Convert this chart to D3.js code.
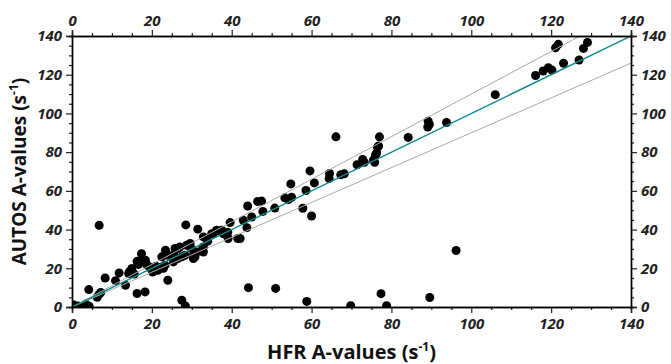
<!DOCTYPE html>
<html>
<head>
<meta charset="utf-8">
<script src="https://cdn.jsdelivr.net/npm/d3@7"></script>
<style>
  body { margin: 0; background: #fff; }
</style>
</head>
<body>
<div id="chart"></div>
<script>
// HFR A-values (x) vs AUTOS A-values (y)
let hfr = [0.5, 1.5, 2.7, 4.3, 3.5, 4.2, 6.3, 6.8, 7.2, 6.8, 8.3, 10.9, 11.8, 13.4, 14.2, 14.4,
    15, 15.6, 16.3, 18.3, 16.3, 17.1, 17.4, 18.4, 18.8, 16.7, 19.8, 20.2, 20.5, 19.5,
    21, 21.5, 22, 22.5, 22.9, 23.3, 22.5, 23.4, 24, 24, 25.4, 25.4, 25.8, 26.6, 25.5, 26.5,
    27.5, 28.3, 27, 28.7, 29.6, 28.5, 27.5, 28.4, 30.4, 30.4, 31.2, 30.8, 31.5, 32.9, 32.9,
    32.5, 32.9, 33.7, 30, 35, 35.4, 36.2, 37.1, 37.5, 37.9, 34, 39.1, 39, 39.6, 41.5, 42.1,
    42.9, 43.8, 44, 44.2, 45, 46.5, 47.5, 47.8, 50.8, 51, 53.3, 54.2, 55, 54.8, 57.8, 58.6,
    60, 60.7, 59.6, 58.8, 64.5, 64.4, 66.1, 67.3, 68.2, 69.8, 71.4, 72.8, 73.2, 75.5, 75.8,
    76, 76.3, 76.5, 76.8, 77, 77.4, 78.8, 84.2, 89.2, 89.5, 89.1, 89.6, 93.8, 96.2,
    106, 116.1, 118, 119.3, 120.2, 121.1, 121.8, 123.1, 127, 128.1, 129.1];
let autos = [1, 0.5, 0.4, 0.4, 1.5, 9, 5, 6.5, 7.5, 42.2, 15, 13.6, 17.6, 11.2, 17.3, 18.3,
    19.9, 17, 7, 7.8, 23.6, 23.3, 27.5, 24.1, 21.6, 22, 19.8, 18.1, 19.9, 20.5,
    21, 19, 19.9, 20.7, 20, 21.6, 25.9, 29.3, 26.7, 13.8, 23.3, 24.1, 30.2, 30.2, 27, 25,
    25.9, 26.7, 31, 31.9, 32.8, 42.4, 3.5, 0.5, 26.7, 25, 28.4, 25.9, 40.2, 31, 28.4,
    29.3, 36.2, 35.4, 30, 37.9, 37.9, 39.7, 39.2, 39.7, 37.9, 34, 35.4, 38.6, 43.6, 35.4, 35.4,
    44.8, 41, 52.2, 10, 46.5, 54.5, 54.7, 49.4, 51.1, 9.6, 56.4, 55.5, 56.7, 63.6, 51, 60.2,
    47, 64.1, 70.3, 2.9, 69, 66.4, 87.9, 68.3, 68.8, 0.7, 73.5, 76.2, 74.8, 76, 74.8,
    78.5, 79.5, 82.5, 83.2, 87.9, 6.9, 0.7, 87.6, 96, 94.3, 93, 4.9, 95.3, 29.2,
    109.7, 119.6, 121.9, 123.6, 122.4, 133.9, 135.7, 125.9, 127.6, 133.6, 136.7];

// reference lines: 1:1 and +/-10 %
let refSlopes = [1.1, 0.9];
let majorTicks = [0, 20, 40, 60, 80, 100, 120, 140];

let svgWidth = 671;
let svgHeight = 364;
let margin = { top: 36, right: 40, bottom: 57, left: 72 };
let width = svgWidth - margin.left - margin.right;
let height = svgHeight - margin.top - margin.bottom;
let fontFamily = '"Open Sans", "Noto Sans", sans-serif';

let svg = d3.select('#chart')
    .append('svg')
    .attr('width', svgWidth)
    .attr('height', svgHeight);

let chartGroup = svg.append('g')
    .attr('transform', `translate(${margin.left}, ${margin.top})`);

svg.append('defs').append('clipPath')
    .attr('id', 'plot-clip')
    .append('rect')
    .attr('x', 0).attr('y', 0)
    .attr('width', width).attr('height', height);

let x = d3.scaleLinear().domain([0, 140]).range([0, width]);
let y = d3.scaleLinear().domain([0, 140]).range([height, 0]);

let minorTicks = d3.range(0, 141, 5).filter(v => v % 20 !== 0);

let plot = chartGroup.append('g').attr('clip-path', 'url(#plot-clip)');

// points
plot.selectAll('circle')
    .data(hfr.map((v, i) => [v, autos[i]]))
    .enter()
    .append('circle')
    .attr('cx', d => x(d[0]))
    .attr('cy', d => y(d[1]))
    .attr('r', 4.5)
    .attr('fill', '#000');

// +/-10% lines
refSlopes.forEach(s => {
    plot.append('line')
        .attr('x1', x(0)).attr('y1', y(0))
        .attr('x2', x(140)).attr('y2', y(140 * s))
        .attr('stroke', '#aaaaaa')
        .attr('stroke-width', 1);
});

// 1:1 line
plot.append('line')
    .attr('x1', x(0)).attr('y1', y(0))
    .attr('x2', x(140)).attr('y2', y(140))
    .attr('stroke', '#0e8a8c')
    .attr('stroke-width', 1.4);

// axes: major ticks with labels, minor ticks without
function drawAxis(axisFn, scale, transform, pad) {
    let g = chartGroup.append('g').attr('transform', transform);
    g.append('g').call(axisFn(scale).tickValues(minorTicks).tickSize(3).tickFormat(''));
    g.append('g').call(axisFn(scale).tickValues(majorTicks).tickSize(6).tickPadding(pad).tickFormat(d3.format('d')));
    g.selectAll('.domain').attr('stroke', '#000').attr('stroke-width', 1.4);
    g.selectAll('.tick line').attr('stroke', '#222').attr('stroke-width', 1.2);
    g.selectAll('.tick text')
        .style('font-family', fontFamily)
        .style('font-weight', 'bold')
        .style('font-style', 'italic')
        .style('font-size', '15px')
        .attr('fill', '#222');
    return g;
}

drawAxis(d3.axisBottom, x, `translate(0,${height})`, 5);
drawAxis(d3.axisTop, x, 'translate(0,0)', 4);
drawAxis(d3.axisLeft, y, 'translate(0,0)', 4);
drawAxis(d3.axisRight, y, `translate(${width},0)`, 4);

// x title
let xTitle = chartGroup.append('text')
    .attr('x', width / 2)
    .attr('y', height + 52)
    .attr('text-anchor', 'middle')
    .style('font-family', fontFamily)
    .style('font-weight', 'bold')
    .style('font-size', '20px')
    .attr('fill', '#111');
xTitle.append('tspan').text('HFR A-values (s');
xTitle.append('tspan').attr('dy', -8).style('font-size', '12px').text('-1');
xTitle.append('tspan').attr('dy', 8).text(')');

// y title
let yTitle = chartGroup.append('text')
    .attr('transform', 'rotate(-90)')
    .attr('x', -height / 2)
    .attr('y', -46)
    .attr('text-anchor', 'middle')
    .style('font-family', fontFamily)
    .style('font-weight', 'bold')
    .style('font-size', '19px')
    .attr('fill', '#111');
yTitle.append('tspan').text('AUTOS A-values (s');
yTitle.append('tspan').attr('dy', -8).style('font-size', '12px').text('-1');
yTitle.append('tspan').attr('dy', 8).text(')');
</script>
</body>
</html>
